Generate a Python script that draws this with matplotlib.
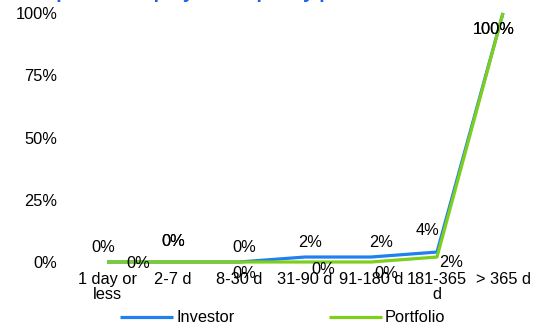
import matplotlib
matplotlib.use("Agg")
import matplotlib.pyplot as plt
from matplotlib.ticker import FuncFormatter

plt.rcParams['font.family'] = ['Liberation Sans', 'DejaVu Sans']

categories = ["1 day or\nless", "2-7 d", "8-30 d", "31-90 d", "91-180 d", "181-365\nd", "> 365 d"]
investor = [0, 0, 0, 2, 2, 4, 100]
portfolio = [0, 0, 0, 0, 0, 2, 100]

blue = "#1f80f0"
green = "#7dcf1c"
fs = 11.8

fig = plt.figure(figsize=(5.35, 3.31), dpi=100)
ax = fig.add_axes([74 / 535, 69 / 331, 462 / 535, 249 / 331])

x = range(len(categories))
ax.plot(x, investor, color=blue, lw=2.3, solid_capstyle="butt", label="Investor", clip_on=False)
ax.plot(x, portfolio, color=green, lw=2.3, solid_capstyle="butt", label="Portfolio", clip_on=False)

ax.set_xlim(-0.5, 6.5)
ax.set_ylim(0, 100)
ax.set_yticks([0, 25, 50, 75, 100])
ax.yaxis.set_major_formatter(FuncFormatter(lambda v, p: f"{v:.0f}%"))
ax.set_xticks(list(x))
ax.set_xticklabels(categories, linespacing=1.0)
ax.tick_params(axis="y", length=0, pad=12, labelsize=fs)
ax.tick_params(axis="x", length=0, pad=7, labelsize=fs)
for s in ax.spines.values():
    s.set_visible(False)

# data labels, placed roughly where the source put them (pixel offsets)
inv_off = [(-4, 15), (0, 20), (5, 15), (5, 15), (10, 15), (-10, 22), (-9, -17)]
por_off = [(31, -1), (0, 20), (5, -12), (18, -8), (15, -12), (14, -5), (-9, -17)]
for i, v in enumerate(investor):
    dx, dy = inv_off[i]
    ax.annotate(f"{v}%", (i, v), xytext=(dx * 0.72, dy * 0.72), textcoords="offset points",
                ha="center", va="center", fontsize=fs, annotation_clip=False)
for i, v in enumerate(portfolio):
    dx, dy = por_off[i]
    ax.annotate(f"{v}%", (i, v), xytext=(dx * 0.72, dy * 0.72), textcoords="offset points",
                ha="center", va="center", fontsize=fs, annotation_clip=False)

fig.text(13 / 535, 1 + 2 / 331, "Comparative equity and liquidity profile", color="#1a5ff0",
         fontsize=14, fontweight="bold", ha="left", va="baseline")

fig.legend(loc="center", bbox_to_anchor=(283 / 535, 13 / 331), ncol=2, frameon=False,
           fontsize=fs, handlelength=3.2, handletextpad=0.2, columnspacing=5.8,
           borderpad=0, borderaxespad=0)

fig.savefig("out.png", dpi=100)
